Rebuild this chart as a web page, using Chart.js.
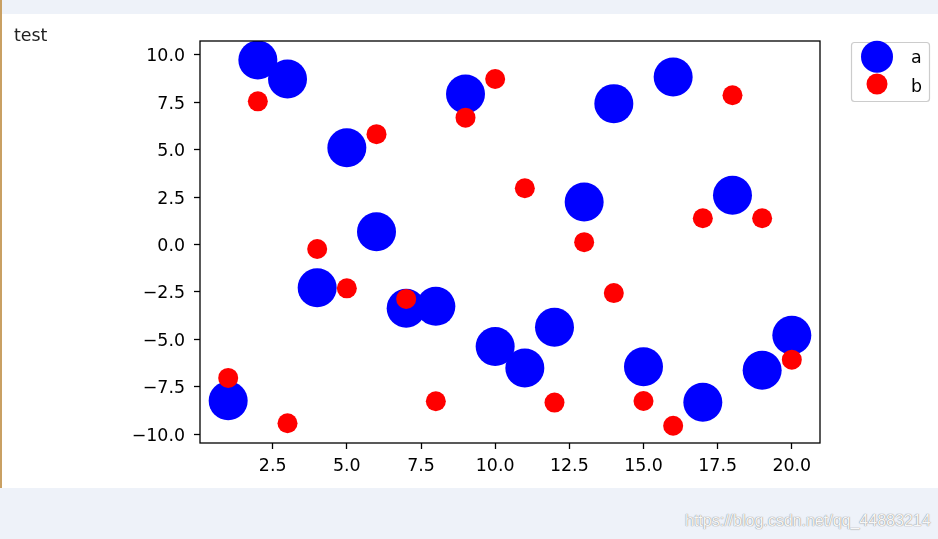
<!DOCTYPE html>
<html>
<head>
<meta charset="utf-8">
<script src="https://cdn.jsdelivr.net/npm/chart.js@4.4.0/dist/chart.umd.min.js"></script>
<style>
html,body{margin:0;padding:0;}
body{width:938px;height:539px;background:#eef2f9;position:relative;overflow:hidden;font-family:'DejaVu Sans',sans-serif;}
#panel{position:absolute;left:0;top:14px;width:938px;height:474px;background:#fff;}
#edge{position:absolute;left:0;top:0;width:2px;height:488px;background:#c9a063;}
#title{position:absolute;left:14px;top:25px;font-size:17.4px;color:#222;font-family:'DejaVu Sans',sans-serif;}
#wm{position:absolute;left:685px;top:512px;font-family:'Liberation Sans',Arial,sans-serif;font-size:16px;color:rgba(255,255,255,0.95);text-shadow:0 0 1px rgba(120,120,120,0.9),0 0 1px rgba(120,120,120,0.6);white-space:nowrap;}
#c{position:absolute;left:0;top:0;}
</style>
</head>
<body>
<div id="panel"><canvas id="c" width="938" height="474"></canvas></div>
<div id="edge"></div>
<div id="title">test</div>
<div id="wm">https://blog.csdn.net/qq_44883214</div>
<script>
// ---- data ----
const xValues = [1,2,3,4,5,6,7,8,9,10,11,12,13,14,15,16,17,18,19,20];
const seriesA = [-8.23,9.72,8.72,-2.28,5.10,0.67,-3.36,-3.26,7.93,-5.38,-6.51,-4.36,2.24,7.42,-6.44,8.82,-8.31,2.59,-6.63,-4.78];
const seriesB = [-7.03,7.54,-9.42,-0.24,-2.31,5.81,-2.87,-8.26,6.68,8.72,2.96,-8.33,0.12,-2.56,-8.25,-9.55,1.38,7.86,1.38,-6.07];
const seriesLabels = ['a','b'];
const seriesColors = ['#0000ff','#ff0000'];
const xTicks = [2.5,5,7.5,10,12.5,15,17.5,20];
const xTickLabels = ['2.5','5.0','7.5','10.0','12.5','15.0','17.5','20.0'];
const yTicks = [-10,-7.5,-5,-2.5,0,2.5,5,7.5,10];
const yTickLabels = ['\u221210.0','\u22127.5','\u22125.0','\u22122.5','0.0','2.5','5.0','7.5','10.0'];

const toPts = ys => xValues.map((x,i)=>({x:x,y:ys[i]}));

const FONT = {family:"'DejaVu Sans', sans-serif", size:17.4};

const framePlugin = {
  id:'frame',
  afterDatasetsDraw(chart){
    const {ctx, chartArea:a} = chart;
    ctx.save();
    ctx.strokeStyle='#000';
    ctx.lineWidth=1.3;
    ctx.strokeRect(a.left, a.top, a.right-a.left, a.bottom-a.top);
    ctx.restore();
  },
  afterDraw(chart){
    const ctx = chart.ctx;
    const bx=851, by=28, bw=78, bh=59;
    ctx.save();
    ctx.beginPath();
    if (ctx.roundRect) ctx.roundRect(bx+0.5,by+0.5,bw,bh,3); else ctx.rect(bx+0.5,by+0.5,bw,bh);
    ctx.fillStyle='rgba(255,255,255,0.8)';
    ctx.fill();
    ctx.strokeStyle='#cccccc';
    ctx.lineWidth=1.2;
    ctx.stroke();
    const rows=[{cy:42.7,r:16,base:49.3},{cy:70,r:10.5,base:77.7}];
    chart.data.datasets.forEach((ds,i)=>{
      const row=rows[i];
      ctx.beginPath();
      ctx.arc(877,row.cy,row.r,0,Math.PI*2);
      ctx.fillStyle=ds.backgroundColor;
      ctx.fill();
      ctx.fillStyle='#000';
      ctx.font="17.4px 'DejaVu Sans', sans-serif";
      ctx.textAlign='left';
      ctx.textBaseline='alphabetic';
      ctx.fillText(ds.label, 911, row.base);
    });
    ctx.restore();
  }
};

new Chart(document.getElementById('c'), {
  type:'scatter',
  data:{
    datasets:[
      {label:seriesLabels[0], data:toPts(seriesA), backgroundColor:seriesColors[0], borderWidth:0, pointRadius:19.5, pointHoverRadius:19.5, order:2},
      {label:seriesLabels[1], data:toPts(seriesB), backgroundColor:seriesColors[1], borderWidth:0, pointRadius:10, pointHoverRadius:10, order:1}
    ]
  },
  options:{
    responsive:false,
    animation:false,
    devicePixelRatio:1,
    events:[],
    layout:{padding:{left:0,top:27,right:118,bottom:0}},
    plugins:{legend:{display:false}, tooltip:{enabled:false}},
    scales:{
      x:{
        type:'linear', min:0.05, max:20.95,
        afterBuildTicks:s=>{s.ticks = xTicks.map(v=>({value:v}));},
        afterFit:s=>{s.height=45;},
        grid:{display:true, drawOnChartArea:false, drawTicks:true, tickLength:6, tickColor:'#000', tickWidth:1.3},
        border:{display:false},
        ticks:{font:FONT, color:'#000', padding:7, maxRotation:0, autoSkip:false, callback:(v,i)=>xTickLabels[i]}
      },
      y:{
        type:'linear', min:-10.46, max:10.72,
        afterBuildTicks:s=>{s.ticks = yTicks.map(v=>({value:v}));},
        afterFit:s=>{s.width=200;},
        grid:{display:true, drawOnChartArea:false, drawTicks:true, tickLength:6, tickColor:'#000', tickWidth:1.3},
        border:{display:false},
        ticks:{font:FONT, color:'#000', padding:9, labelOffset:2, autoSkip:false, callback:(v,i)=>yTickLabels[i]}
      }
    }
  },
  plugins:[framePlugin]
});
</script>
</body>
</html>
